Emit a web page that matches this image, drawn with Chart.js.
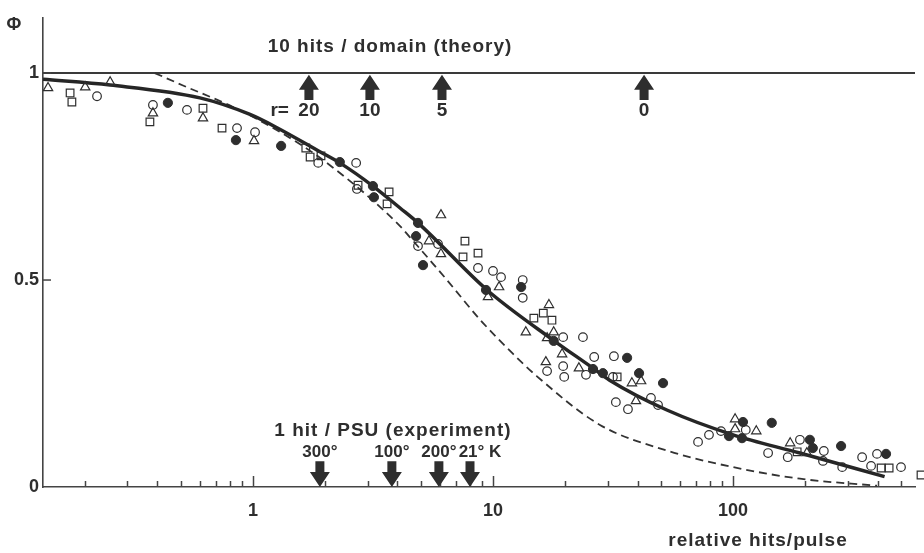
<!DOCTYPE html>
<html>
<head>
<meta charset="utf-8">
<script src="https://cdn.jsdelivr.net/npm/chart.js@4"></script>
<style>
  html, body { margin: 0; padding: 0; background: #fff; }
</style>
</head>
<body>
<canvas id="phi" width="924" height="553"></canvas>
<script>
// axis ranges
const xMin = 0.1334;
const xMax = 573;
const yMin = 0;
const yMax = 1.133;

const xTickValues = [0.2, 0.3, 0.4, 0.5, 0.6, 0.7, 0.8, 0.9,
  1, 2, 3, 4, 5, 6, 7, 8, 9,
  10, 20, 30, 40, 50, 60, 70, 80, 90,
  100, 200, 300, 400, 500];
const xTickLabels = [1, 10, 100];
const yTickValues = [0, 0.5, 1];

// fitted curves
const solidX = [0.1334, 0.254, 0.601, 0.972, 1.259, 1.90, 2.30, 3.16, 4.10, 4.87, 9.44, 17.8, 26.1, 30.6, 53.0, 100, 190, 428];
const solidY = [0.985, 0.971, 0.94, 0.900, 0.868, 0.810, 0.783, 0.727, 0.674, 0.638, 0.476, 0.355, 0.287, 0.258, 0.186, 0.126, 0.082, 0.025];

const dashX = [0.39, 0.511, 0.826, 1.259, 1.73, 2.15, 2.98, 4.10, 4.64, 6.43, 8.81, 12.1, 15.2, 27.9, 53.0, 100, 190, 398];
const dashY = [1.0, 0.970, 0.918, 0.862, 0.812, 0.772, 0.705, 0.630, 0.595, 0.50, 0.405, 0.322, 0.268, 0.150, 0.088, 0.048, 0.020, 0.003];

const theoryLevel = 1;

// measured points
const openCircleX = [0.224, 0.383, 0.531, 0.858, 1.02, 1.87, 2.69, 2.71, 4.87, 5.90, 8.66, 10.0, 10.8, 13.3, 13.3, 19.6, 23.7, 16.8, 19.6, 19.8, 26.4, 31.9, 24.4, 31.6, 32.5, 36.5, 45.5, 48.7, 71.5, 79.4, 89.1, 113, 140, 190, 239, 169, 237, 285, 345, 398, 376, 501];
const openCircleY = [0.944, 0.923, 0.911, 0.867, 0.857, 0.783, 0.783, 0.720, 0.582, 0.587, 0.529, 0.522, 0.507, 0.500, 0.457, 0.362, 0.362, 0.280, 0.292, 0.266, 0.314, 0.316, 0.271, 0.266, 0.205, 0.188, 0.215, 0.198, 0.109, 0.126, 0.135, 0.138, 0.082, 0.114, 0.087, 0.072, 0.063, 0.048, 0.072, 0.080, 0.051, 0.048];

const filledCircleX = [0.442, 0.849, 1.31, 2.30, 3.16, 3.19, 4.87, 4.78, 5.11, 9.35, 13.1, 17.9, 36.2, 26.1, 28.7, 40.6, 51.1, 96.2, 110, 109, 145, 209, 215, 282, 434];
const filledCircleY = [0.928, 0.838, 0.824, 0.785, 0.727, 0.700, 0.638, 0.606, 0.536, 0.476, 0.483, 0.353, 0.312, 0.285, 0.275, 0.275, 0.251, 0.123, 0.157, 0.118, 0.155, 0.114, 0.094, 0.099, 0.080];

const squareX = [0.173, 0.176, 0.372, 0.619, 0.743, 1.66, 1.73, 1.92, 2.74, 3.69, 3.62, 7.64, 8.66, 7.50, 14.8, 16.2, 17.6, 32.9, 185, 414, 447, 607];
const squareY = [0.952, 0.930, 0.882, 0.915, 0.867, 0.819, 0.797, 0.800, 0.729, 0.713, 0.684, 0.594, 0.565, 0.556, 0.408, 0.420, 0.403, 0.266, 0.085, 0.046, 0.046, 0.029];

const triangleX = [0.140, 0.200, 0.254, 0.383, 0.619, 1.01, 6.07, 5.41, 6.07, 10.6, 9.53, 17.1, 13.7, 17.9, 16.8, 19.4, 16.6, 22.8, 37.9, 41.4, 39.4, 102, 102, 125, 173, 203];
const triangleY = [0.964, 0.966, 0.978, 0.903, 0.891, 0.836, 0.657, 0.594, 0.563, 0.483, 0.459, 0.440, 0.374, 0.374, 0.360, 0.321, 0.302, 0.287, 0.251, 0.256, 0.208, 0.164, 0.140, 0.135, 0.106, 0.082];

// arrows along the top (theory) and bottom (experiment)
const theoryArrowX = [1.71, 3.07, 6.13, 42.6];
const theoryArrowLabels = ["20", "10", "5", "0"];
const experimentArrowX = [1.90, 3.79, 5.95, 8.02];
const experimentArrowLabels = ["300°", "100°", "200°", "21° K"];

const ink = "#2e2e2e";
const fontFamily = "'Liberation Sans', Arial, sans-serif";

const pairs = (xs, ys) => xs.map((v, i) => ({ x: v, y: ys[i] }));

function arrow(ctx, cx, tip, tail, dir) {
  // dir = -1 points up, +1 points down
  const headLen = 15, headHalf = 10, shaftHalf = 4.5;
  const headBase = tip - dir * headLen;
  ctx.beginPath();
  ctx.moveTo(cx, tip);
  ctx.lineTo(cx - headHalf, headBase);
  ctx.lineTo(cx - shaftHalf, headBase);
  ctx.lineTo(cx - shaftHalf, tail);
  ctx.lineTo(cx + shaftHalf, tail);
  ctx.lineTo(cx + shaftHalf, headBase);
  ctx.lineTo(cx + headHalf, headBase);
  ctx.closePath();
  ctx.fill();
}

const overlay = {
  id: "overlay",
  afterDatasetsDraw(chart) {
    const { ctx, chartArea: a, scales: { x, y } } = chart;
    ctx.save();

    // tick marks pointing into the plot
    ctx.strokeStyle = "#444";
    ctx.lineWidth = 1.5;
    xTickValues.forEach(v => {
      const px = Math.round(x.getPixelForValue(v)) + 0.5;
      const len = xTickLabels.includes(v) ? 11 : 6;
      ctx.beginPath();
      ctx.moveTo(px, a.bottom);
      ctx.lineTo(px, a.bottom - len);
      ctx.stroke();
    });
    yTickValues.forEach(v => {
      if (v === 0) return;
      const py = y.getPixelForValue(v);
      ctx.beginPath();
      ctx.moveTo(a.left, py);
      ctx.lineTo(a.left + 8, py);
      ctx.stroke();
    });

    ctx.fillStyle = ink;
    theoryArrowX.forEach(v => {
      arrow(ctx, x.getPixelForValue(v), y.getPixelForValue(0.996), y.getPixelForValue(0.935), -1);
    });
    experimentArrowX.forEach(v => {
      arrow(ctx, x.getPixelForValue(v), y.getPixelForValue(0.0), y.getPixelForValue(0.062), 1);
    });

    ctx.textBaseline = "middle";
    ctx.textAlign = "center";
    ctx.font = "bold 19px " + fontFamily;
    theoryArrowX.forEach((v, i) => {
      ctx.fillText(theoryArrowLabels[i], x.getPixelForValue(v), 111);
    });
    ctx.textAlign = "right";
    ctx.fillText("r=", x.getPixelForValue(theoryArrowX[0]) - 20, 111);

    ctx.textAlign = "center";
    ctx.font = "bold 17px " + fontFamily;
    experimentArrowX.forEach((v, i) => {
      const dx = i === 3 ? 10 : 0;
      ctx.fillText(experimentArrowLabels[i], x.getPixelForValue(v) + dx, 452);
    });

    ctx.font = "bold 19px " + fontFamily;
    ctx.letterSpacing = "1px";
    ctx.fillText("10 hits / domain (theory)", 390, 47);
    ctx.fillText("1 hit / PSU (experiment)", 393, 431);
    ctx.fillText("relative hits/pulse", 758, 541);
    ctx.letterSpacing = "0px";
    ctx.font = "bold 18px " + fontFamily;
    ctx.fillText("Φ", 14, 25);

    ctx.restore();
  }
};

new Chart(document.getElementById("phi"), {
  type: "scatter",
  data: {
    datasets: [
      {
        label: "open circle",
        data: pairs(openCircleX, openCircleY),
        pointStyle: "circle",
        pointRadius: 4.3,
        borderColor: ink,
        borderWidth: 1.2,
        backgroundColor: "rgba(255,255,255,0)"
      },
      {
        label: "filled circle",
        data: pairs(filledCircleX, filledCircleY),
        pointStyle: "circle",
        pointRadius: 4.6,
        borderColor: ink,
        borderWidth: 1,
        backgroundColor: ink
      },
      {
        label: "square",
        data: pairs(squareX, squareY),
        pointStyle: "rect",
        pointRadius: 5.4,
        borderColor: ink,
        borderWidth: 1.2,
        backgroundColor: "rgba(255,255,255,0)",
        clip: false
      },
      {
        label: "triangle",
        data: pairs(triangleX, triangleY),
        pointStyle: "triangle",
        pointRadius: 5.4,
        borderColor: ink,
        borderWidth: 1.2,
        backgroundColor: "rgba(255,255,255,0)"
      },
      {
        label: "fit",
        data: pairs(solidX, solidY),
        showLine: true,
        borderColor: "#262626",
        borderWidth: 3.5,
        pointRadius: 0,
        cubicInterpolationMode: "monotone"
      },
      {
        label: "theory",
        data: pairs(dashX, dashY),
        showLine: true,
        borderColor: "#333",
        borderWidth: 1.8,
        borderDash: [8, 5],
        pointRadius: 0,
        cubicInterpolationMode: "monotone"
      },
      {
        label: "10 hits/domain",
        data: [{ x: xMin, y: theoryLevel }, { x: xMax, y: theoryLevel }],
        showLine: true,
        borderColor: "#3a3a3a",
        borderWidth: 2,
        pointRadius: 0
      }
    ]
  },
  options: {
    responsive: false,
    animation: false,
    layout: { padding: { top: 18, right: 9, left: 0, bottom: 0 } },
    plugins: {
      legend: { display: false },
      tooltip: { enabled: false }
    },
    scales: {
      x: {
        type: "logarithmic",
        min: xMin,
        max: xMax,
        afterBuildTicks: s => { s.ticks = xTickValues.map(v => ({ value: v })); },
        afterFit: s => { s.height = 66; },
        grid: { display: false, drawTicks: false },
        border: { display: true, color: "#444", width: 1.6 },
        ticks: {
          autoSkip: false,
          maxRotation: 0,
          padding: 13,
          color: ink,
          font: { family: fontFamily, size: 18, weight: "bold" },
          callback: v => xTickLabels.includes(v) ? String(v) : ""
        }
      },
      y: {
        min: yMin,
        max: yMax,
        afterBuildTicks: s => { s.ticks = yTickValues.map(v => ({ value: v })); },
        afterFit: s => { s.width = 43; },
        grid: { display: false, drawTicks: false },
        border: { display: true, color: "#444", width: 1.6 },
        ticks: {
          padding: 4,
          color: ink,
          font: { family: fontFamily, size: 18, weight: "bold" },
          callback: v => String(v)
        }
      }
    }
  },
  plugins: [overlay]
});
</script>
</body>
</html>
